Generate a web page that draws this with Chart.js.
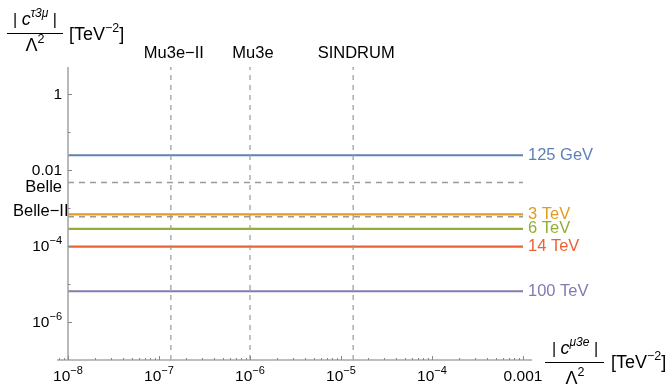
<!DOCTYPE html>
<html>
<head>
<meta charset="utf-8">
<script src="https://cdn.jsdelivr.net/npm/chart.js@4/dist/chart.umd.min.js"></script>
<style>
	html, body { margin: 0; padding: 0; background: #fff; }
	#wrap { width: 672px; height: 386px; }
</style>
</head>
<body>
<div id="wrap"><canvas id="myChart"></canvas></div>
<script>
// scenario lines: bound on |c^{tau3mu}|/Lambda^2 for each mass scale
const scenarios = ['125 GeV', '3 TeV', '6 TeV', '14 TeV', '100 TeV'];
const tauBounds = [0.024, 6.7e-4, 2.8e-4, 9.5e-5, 6.4e-6];
const scenarioColors = ['#5e81b5', '#e19c24', '#8fb032', '#eb6235', '#8778b3'];

// tau -> 3 mu experiments (horizontal dashed)
const tauExps = ['Belle', 'Belle\u2212II'];
const tauExpLimits = [4.6e-3, 5.8e-4];

// mu -> 3e experiments (vertical dashed)
const muExps = ['Mu3e\u2212II', 'Mu3e', 'SINDRUM'];
const muExpLimits = [1.35e-7, 1e-6, 1.36e-5];

const xRange = [1e-8, 1e-3];
const yRange = [1e-7, 5];

const xTickValues = [1e-8, 1e-7, 1e-6, 1e-5, 1e-4, 1e-3];
const xTickLabels = [['10', '\u22128'], ['10', '\u22127'], ['10', '\u22126'], ['10', '\u22125'], ['10', '\u22124'], ['0.001', '']];
const yTickValues = [1, 0.01, 1e-4, 1e-6];
const yTickLabels = [['1', ''], ['0.01', ''], ['10', '\u22124'], ['10', '\u22126']];
const yMinorTicks = [0.1, 1e-3, 1e-5];

const FONT = '"Liberation Sans", Arial, sans-serif';
const AXIS_COLOR = '#a8a8a8';
const DASH_COLOR = '#9a9a9a';

const datasets = [];
muExpLimits.forEach((v, i) => {
	datasets.push({
		label: muExps[i],
		data: [{ x: v, y: yRange[0] }, { x: v, y: yRange[1] }],
		borderColor: DASH_COLOR, borderWidth: 1.2, borderDash: [5, 5], pointRadius: 0
	});
});
tauExpLimits.forEach((v, i) => {
	datasets.push({
		label: tauExps[i],
		data: [{ x: xRange[0], y: v }, { x: xRange[1], y: v }],
		borderColor: DASH_COLOR, borderWidth: 1.5, borderDash: [6, 5], pointRadius: 0
	});
});
tauBounds.forEach((v, i) => {
	datasets.push({
		label: scenarios[i],
		data: [{ x: xRange[0], y: v }, { x: xRange[1], y: v }],
		borderColor: scenarioColors[i], borderWidth: 2.2, pointRadius: 0
	});
});

// text with a superscript part
function richWidth(ctx, parts) {
	let w = 0;
	parts.forEach((p) => { ctx.font = p.font; w += ctx.measureText(p.t).width; });
	return w;
}
function drawRich(ctx, parts, x, y, align) {
	const w = richWidth(ctx, parts);
	let cx = align === 'right' ? x - w : align === 'center' ? x - w / 2 : x;
	parts.forEach((p) => {
		ctx.font = p.font;
		ctx.fillText(p.t, cx, y + (p.dy || 0));
		cx += ctx.measureText(p.t).width;
	});
}
function numLabel(base, exp) {
	const parts = [{ t: base, font: '15.5px ' + FONT }];
	if (exp) parts.push({ t: exp, font: '11px ' + FONT, dy: -7 });
	return parts;
}
function fractionTitle(ctx, sup, cx, numY, barY, denY, bx0, bx1, unitX, unitY) {
	const n = [
		{ t: '| ', font: '16px ' + FONT },
		{ t: 'c', font: 'italic 18px ' + FONT },
		{ t: sup, font: 'italic 12px ' + FONT, dy: -8 },
		{ t: ' |', font: '16px ' + FONT }
	];
	drawRich(ctx, n, cx, numY, 'center');
	ctx.strokeStyle = '#000';
	ctx.lineWidth = 1;
	ctx.beginPath();
	ctx.moveTo(bx0, barY + 0.5);
	ctx.lineTo(bx1, barY + 0.5);
	ctx.stroke();
	drawRich(ctx, [{ t: '\u039b', font: '18px ' + FONT }, { t: '2', font: '12.5px ' + FONT, dy: -8 }], cx, denY, 'center');
	drawRich(ctx, [{ t: '[TeV', font: '18px ' + FONT }, { t: '\u22122', font: '12.5px ' + FONT, dy: -8 }, { t: ']', font: '18px ' + FONT }], unitX, unitY, 'left');
}

const decorations = {
	id: 'decorations',
	afterDraw(chart) {
		const ctx = chart.ctx;
		const xs = chart.scales.x;
		const ys = chart.scales.y;
		const a = chart.chartArea;
		ctx.save();

		// axes
		ctx.strokeStyle = AXIS_COLOR;
		ctx.lineWidth = 1.6;
		ctx.beginPath();
		ctx.moveTo(a.left - 11, a.bottom);
		ctx.lineTo(a.right + 9, a.bottom);
		ctx.moveTo(a.left, a.top);
		ctx.lineTo(a.left, a.bottom);
		ctx.stroke();

		// ticks (pointing inward)
		ctx.strokeStyle = '#888';
		ctx.lineWidth = 1;
		ctx.beginPath();
		for (let e = -9; e <= -3; e++) {
			for (let m = 1; m <= 9; m++) {
				const v = m * Math.pow(10, e);
				const px = xs.getPixelForValue(v);
				if (px < a.left - 11 || px > a.right + 9) continue;
				const len = m === 1 ? 4 : 2;
				ctx.moveTo(Math.round(px) + 0.5, a.bottom);
				ctx.lineTo(Math.round(px) + 0.5, a.bottom - len);
			}
		}
		yTickValues.forEach((v) => {
			const py = Math.round(ys.getPixelForValue(v)) + 0.5;
			ctx.moveTo(a.left, py);
			ctx.lineTo(a.left + 4, py);
		});
		yMinorTicks.forEach((v) => {
			const py = Math.round(ys.getPixelForValue(v)) + 0.5;
			ctx.moveTo(a.left, py);
			ctx.lineTo(a.left + 2.5, py);
		});
		ctx.stroke();

		// tick labels
		ctx.fillStyle = '#000';
		ctx.textBaseline = 'alphabetic';
		xTickValues.forEach((v, i) => {
			drawRich(ctx, numLabel(xTickLabels[i][0], xTickLabels[i][1]), xs.getPixelForValue(v), a.bottom + 21, 'center');
		});
		yTickValues.forEach((v, i) => {
			drawRich(ctx, numLabel(yTickLabels[i][0], yTickLabels[i][1]), a.left - 6, ys.getPixelForValue(v) + 5.5, 'right');
		});

		// scenario labels
		ctx.font = '16.5px ' + FONT;
		ctx.textAlign = 'left';
		ctx.textBaseline = 'middle';
		tauBounds.forEach((v, i) => {
			ctx.fillStyle = scenarioColors[i];
			ctx.fillText(scenarios[i], a.right + 5, ys.getPixelForValue(v));
		});

		// experiment labels
		ctx.fillStyle = '#000';
		ctx.textAlign = 'center';
		muExpLimits.forEach((v, i) => {
			ctx.fillText(muExps[i], xs.getPixelForValue(v) + 3, 53);
		});
		ctx.textAlign = 'right';
		ctx.fillText(tauExps[0], a.left - 6, ys.getPixelForValue(tauExpLimits[0]) + 5);
		ctx.textAlign = 'left';
		ctx.fillText(tauExps[1], 13, ys.getPixelForValue(tauExpLimits[1]) - 5);

		// axis titles
		ctx.textAlign = 'left';
		ctx.textBaseline = 'alphabetic';
		fractionTitle(ctx, '\u03c43\u03bc', 35, 25, 33, 51, 7, 63, 69, 40);
		fractionTitle(ctx, '\u03bc3e', 575, 354, 362, 384, 545, 604, 611, 368);

		ctx.restore();
	}
};

new Chart(document.getElementById('myChart'), {
	type: 'line',
	data: { datasets },
	options: {
		responsive: true,
		maintainAspectRatio: false,
		animation: false,
		layout: { padding: { left: 68, right: 149, top: 67, bottom: 26 } },
		plugins: { legend: { display: false }, tooltip: { enabled: false } },
		scales: {
			x: { type: 'logarithmic', min: xRange[0], max: xRange[1], display: false },
			y: { type: 'logarithmic', min: yRange[0], max: yRange[1], display: false }
		}
	},
	plugins: [decorations]
});
</script>
</body>
</html>
